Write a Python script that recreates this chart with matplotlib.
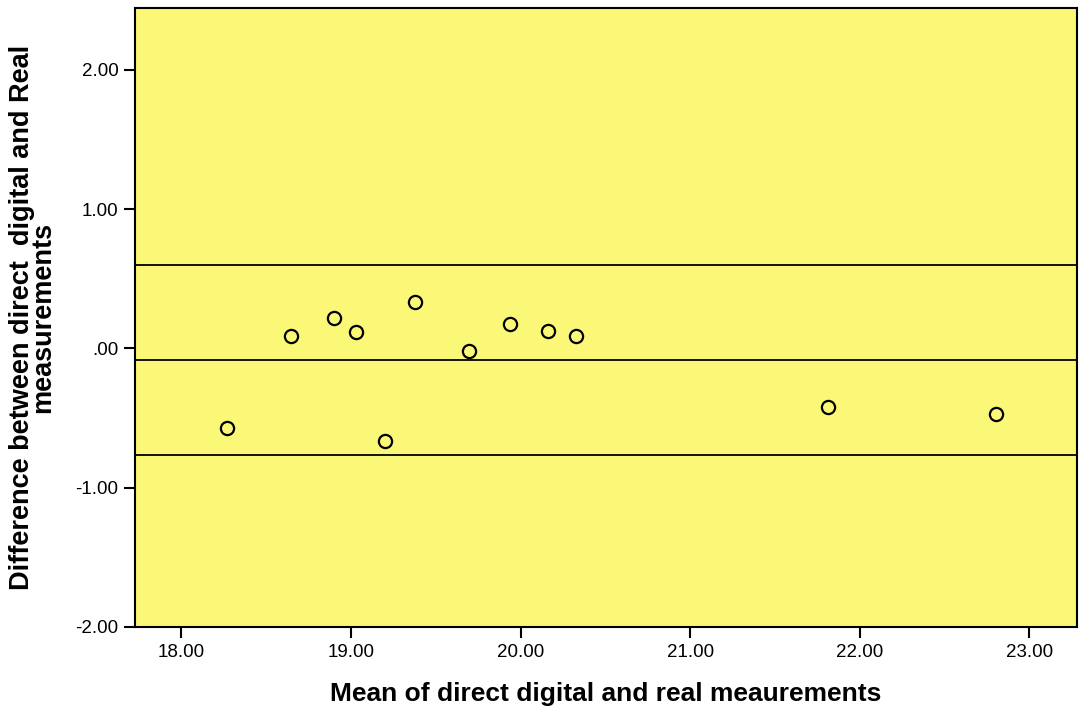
import numpy as np
import matplotlib
matplotlib.use("Agg")
import matplotlib.pyplot as plt
from matplotlib.ticker import FuncFormatter

plt.rcParams['font.family'] = ['Liberation Sans', 'DejaVu Sans']

# Bland-Altman data
mean_vals = [18.267, 18.644, 18.902, 19.028, 19.379, 19.199, 19.694, 19.938, 20.164, 20.327, 21.812, 22.805]
diff_vals = [-0.573, 0.088, 0.221, 0.116, 0.336, -0.667, -0.016, 0.176, 0.128, 0.092, -0.418, -0.473]
ref_lines = [0.597, -0.084, -0.765]  # upper limit, mean difference, lower limit

x_ticks = [18, 19, 20, 21, 22, 23]
y_ticks = [-2, -1, 0, 1, 2]


def spss_fmt(v, pos):
    s = f"{v:.2f}"
    if s.startswith("0."):
        s = s[1:]
    elif s.startswith("-0."):
        s = "-" + s[2:]
    return s


fig = plt.figure(figsize=(10.8, 7.14), dpi=100)
ax = fig.add_axes([0.125, 0.122, 0.872, 0.867])
ax.set_facecolor('#FBF777')

for y in ref_lines:
    ax.axhline(y, color='black', linewidth=1.3, zorder=2)

ax.plot(mean_vals, diff_vals, linestyle='none', marker='o', markersize=9.5,
        markerfacecolor='none', markeredgecolor='black', markeredgewidth=1.6, zorder=3)

ax.set_xlim(17.726, 23.28)
ax.set_ylim(-2.0, 2.445)
ax.set_xticks(x_ticks)
ax.set_yticks(y_ticks)
ax.xaxis.set_major_formatter(FuncFormatter(spss_fmt))
ax.yaxis.set_major_formatter(FuncFormatter(spss_fmt))
ax.tick_params(axis='both', labelsize=13.5, length=8, width=1.5, color='black', pad=4)

for sp in ax.spines.values():
    sp.set_linewidth(1.5)

ax.set_xlabel("Mean of direct digital and real meaurements", fontsize=19,
              fontweight='bold')
ax.xaxis.set_label_coords(0.5, -0.089)
ax.set_ylabel("Difference between direct  digital and Real\nmeasurements", fontsize=19.5,
              fontweight='bold', linespacing=0.76)
ax.yaxis.set_label_coords(-0.084, 0.5)

fig.savefig("out.png", dpi=100)
